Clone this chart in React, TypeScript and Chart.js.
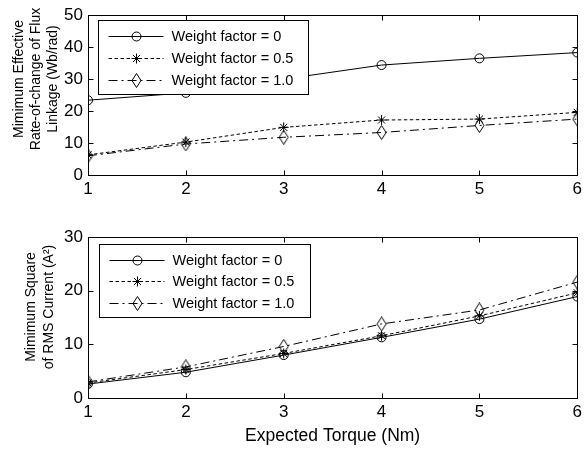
import React, { useEffect, useRef } from 'react';
import { Chart, registerables } from 'chart.js';
Chart.register(...registerables);

// ---------- data ----------
const torque = [1, 2, 3, 4, 5, 6];
const seriesLabels = ['Weight factor = 0', 'Weight factor = 0.5', 'Weight factor = 1.0'];
const fluxWF0 = [23.4, 25.7, 30.0, 34.4, 36.5, 38.3];
const fluxWF05 = [6.3, 10.3, 14.9, 17.2, 17.5, 19.6];
const fluxWF10 = [6.0, 9.7, 11.8, 13.3, 15.5, 17.5];
const rmsWF0 = [2.6, 4.8, 8.0, 11.3, 14.7, 18.9];
const rmsWF05 = [2.8, 5.3, 8.3, 11.6, 15.3, 19.6];
const rmsWF10 = [3.0, 5.8, 9.6, 13.8, 16.4, 21.6];
const xTicks = [1, 6];
const fluxTicks = [0, 50];
const rmsTicks = [0, 30];
const fluxTitle = ['Mimimum Effective', 'Rate-of-change of Flux', 'Linkage (Wb/rad)'];
const rmsTitle = ['Mimimum Square', 'of RMS Current (A\u00B2)'];
const xTitle = 'Expected Torque (Nm)';

const FONT = "'Liberation Sans', Arial, Helvetica, sans-serif";

function makeDiamond(): HTMLCanvasElement {
  const c = document.createElement('canvas');
  c.width = 11;
  c.height = 15;
  const g = c.getContext('2d')!;
  g.strokeStyle = '#000';
  g.lineWidth = 1;
  g.beginPath();
  g.moveTo(5.5, 0.5);
  g.lineTo(10, 7.5);
  g.lineTo(5.5, 14.5);
  g.lineTo(1, 7.5);
  g.closePath();
  g.stroke();
  return c;
}

function drawMarker(ctx: CanvasRenderingContext2D, style: any, x: number, y: number, r: number) {
  ctx.save();
  ctx.setLineDash([]);
  ctx.strokeStyle = '#000';
  ctx.lineWidth = 1;
  if (style === 'circle') {
    ctx.beginPath();
    ctx.arc(x, y, r, 0, Math.PI * 2);
    ctx.stroke();
  } else if (style === 'star') {
    const d = r * Math.SQRT1_2;
    ctx.beginPath();
    ctx.moveTo(x - r, y); ctx.lineTo(x + r, y);
    ctx.moveTo(x, y - r); ctx.lineTo(x, y + r);
    ctx.moveTo(x - d, y - d); ctx.lineTo(x + d, y + d);
    ctx.moveTo(x - d, y + d); ctx.lineTo(x + d, y - d);
    ctx.stroke();
  } else if (style && style.width) {
    ctx.drawImage(style, Math.round(x - style.width / 2), Math.round(y - style.height / 2));
  }
  ctx.restore();
}

const framePlugin = {
  id: 'frame',
  beforeDatasetsDraw(chart: any) {
    const { ctx, chartArea: ca, scales } = chart;
    const L = 5;
    const l = Math.round(ca.left) + 0.5, r = Math.round(ca.right) + 0.5;
    const t = Math.round(ca.top) + 0.5, b = Math.round(ca.bottom) + 0.5;
    ctx.save();
    ctx.strokeStyle = '#000';
    ctx.lineWidth = 1;
    ctx.setLineDash([]);
    ctx.strokeRect(l, t, r - l, b - t);
    ctx.beginPath();
    scales.x.ticks.forEach((tk: any) => {
      const px = Math.round(scales.x.getPixelForValue(tk.value)) + 0.5;
      ctx.moveTo(px, b); ctx.lineTo(px, b - L);
      ctx.moveTo(px, t); ctx.lineTo(px, t + L);
    });
    scales.y.ticks.forEach((tk: any) => {
      const py = Math.round(scales.y.getPixelForValue(tk.value)) + 0.5;
      ctx.moveTo(l, py); ctx.lineTo(l + L, py);
      ctx.moveTo(r, py); ctx.lineTo(r - L, py);
    });
    ctx.stroke();
    ctx.restore();
  },
};

function makeLegend(left: number, top: number, width: number, height: number, firstRow: number, rowGap: number) {
  return {
    id: 'boxLegend',
    afterDatasetsDraw(chart: any) {
      const { ctx, chartArea: ca } = chart;
      const x0 = Math.round(ca.left + left) + 0.5;
      const y0 = Math.round(ca.top + top) + 0.5;
      ctx.save();
      ctx.fillStyle = '#fff';
      ctx.fillRect(x0, y0, width, height);
      ctx.strokeStyle = '#000';
      ctx.lineWidth = 1;
      ctx.setLineDash([]);
      ctx.strokeRect(x0, y0, width, height);
      chart.data.datasets.forEach((ds: any, i: number) => {
        const y = Math.round(y0 + firstRow + i * rowGap) + 0.5;
        ctx.setLineDash(ds.borderDash || []);
        ctx.beginPath();
        ctx.moveTo(x0 + 10, y);
        ctx.lineTo(x0 + 65, y);
        ctx.stroke();
        drawMarker(ctx, ds.pointStyle, x0 + 38, y, ds.pointRadius);
        ctx.setLineDash([]);
        ctx.fillStyle = '#000';
        ctx.font = `14.5px ${FONT}`;
        ctx.textAlign = 'left';
        ctx.textBaseline = 'middle';
        ctx.fillText(ds.label, x0 + 73, y);
      });
      ctx.restore();
    },
  };
}

function makeYTitle(lines: string[], xs: number[], cy: number) {
  return {
    id: 'yTitle',
    afterDraw(chart: any) {
      const { ctx } = chart;
      ctx.save();
      ctx.fillStyle = '#000';
      ctx.font = `14px ${FONT}`;
      ctx.textAlign = 'center';
      ctx.textBaseline = 'middle';
      lines.forEach((line, i) => {
        ctx.save();
        ctx.translate(xs[i], cy);
        ctx.rotate(-Math.PI / 2);
        ctx.fillText(line, 0, 0);
        ctx.restore();
      });
      ctx.restore();
    },
  };
}

function makeDatasets(a: number[], b: number[], c: number[], diamond: HTMLCanvasElement) {
  const base = {
    borderColor: '#000',
    borderWidth: 1,
    pointBorderColor: '#000',
    pointBackgroundColor: 'rgba(0,0,0,0)',
    pointBorderWidth: 1,
    tension: 0,
    fill: false,
  };
  return [
    { ...base, label: seriesLabels[0], data: torque.map((t, i) => ({ x: t, y: a[i] })), borderDash: [], pointStyle: 'circle', pointRadius: 4.5 },
    { ...base, label: seriesLabels[1], data: torque.map((t, i) => ({ x: t, y: b[i] })), borderDash: [3.5, 2.5], pointStyle: 'star', pointRadius: 5 },
    { ...base, label: seriesLabels[2], data: torque.map((t, i) => ({ x: t, y: c[i] })), borderDash: [9, 4, 2, 4], pointStyle: diamond, pointRadius: 6 },
  ];
}

function makeConfig(datasets: any[], yRange: number[], padTop: number, xHeight: number, showXTitle: boolean, plugins: any[]): any {
  return {
    type: 'line',
    data: { datasets },
    plugins,
    options: {
      animation: false,
      responsive: false,
      devicePixelRatio: 1,
      layout: { padding: { top: padTop, right: 5, bottom: 0, left: 0 } },
      plugins: { legend: { display: false }, tooltip: { enabled: false } },
      scales: {
        x: {
          type: 'linear',
          min: xTicks[0],
          max: xTicks[1],
          grid: { display: false, drawTicks: false },
          border: { display: false },
          ticks: { stepSize: 1, padding: 4, color: '#000', font: { size: 17, family: FONT } },
          title: {
            display: showXTitle,
            text: xTitle,
            color: '#000',
            font: { size: 17.5, family: FONT },
            padding: { top: 0, bottom: 6 },
          },
          afterFit: (s: any) => { s.height = xHeight; },
        },
        y: {
          type: 'linear',
          min: yRange[0],
          max: yRange[1],
          grid: { display: false, drawTicks: false },
          border: { display: false },
          ticks: { stepSize: 10, padding: 5, color: '#000', font: { size: 17, family: FONT } },
          afterFit: (s: any) => { s.width = 88; },
        },
      },
    },
  };
}

export default function App() {
  const topRef = useRef<HTMLCanvasElement>(null);
  const botRef = useRef<HTMLCanvasElement>(null);

  useEffect(() => {
    const diamond = makeDiamond();
    const top = new Chart(
      topRef.current!,
      makeConfig(
        makeDatasets(fluxWF0, fluxWF05, fluxWF10, diamond),
        fluxTicks,
        13,
        30,
        false,
        [framePlugin, makeLegend(10, 5, 210, 74, 15, 22), makeYTitle(fluxTitle, [19, 36, 53], 79)]
      )
    );
    const bot = new Chart(
      botRef.current!,
      makeConfig(
        makeDatasets(rmsWF0, rmsWF05, rmsWF10, diamond),
        rmsTicks,
        22,
        55,
        true,
        [framePlugin, makeLegend(11, 7, 211, 73, 15, 21.5), makeYTitle(rmsTitle, [31, 49], 92)]
      )
    );
    return () => {
      top.destroy();
      bot.destroy();
    };
  }, []);

  return (
    <div style={{ position: 'fixed', left: 0, top: 0, width: 586, height: 453, background: '#fff', overflow: 'hidden' }}>
      <canvas ref={topRef} width={586} height={205} style={{ position: 'absolute', left: 0, top: 0, width: 586, height: 205 }} />
      <canvas ref={botRef} width={586} height={238} style={{ position: 'absolute', left: 0, top: 215, width: 586, height: 238 }} />
    </div>
  );
}
